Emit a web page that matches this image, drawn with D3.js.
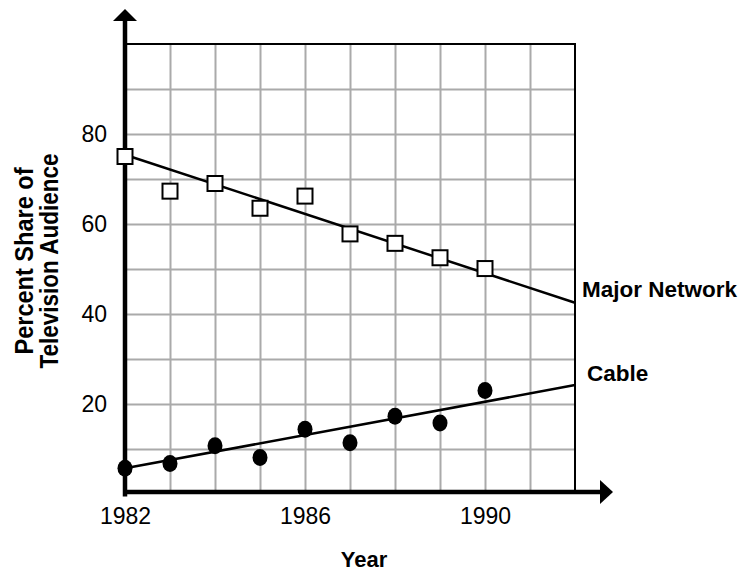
<!DOCTYPE html>
<html lang="en">
<head>
    <meta charset="UTF-8">
    <title>Television Audience Share</title>
    <script src="https://d3js.org/d3.v7.min.js"></script>
    <style>
        body {margin: 0; background: white}
        text {font-family: 'Liberation Sans', Arial, sans-serif; fill: black}
        .grid line {stroke: #aaa; stroke-width: 2}
        .grid .domain {display: none}
        .ticks .domain, .ticks line {display: none}
        .ticks text {font-size: 23px}
        .label {font-size: 22.5px; font-weight: bold}
    </style>
</head>
<body>
<script>
    const width  = 743;
    const height = 571;

    // data
    const years    = [1982, 1983, 1984, 1985, 1986, 1987, 1988, 1989, 1990];
    const network  = [75, 67.3, 69, 63.5, 66.2, 57.8, 55.7, 52.5, 50.1];
    const cable    = [5.7, 6.8, 10.7, 8.1, 14.4, 11.4, 17.3, 15.8, 23];
    const networkTrend = [[1982, 75.4], [1992, 42.5]];
    const cableTrend   = [[1982, 5.7], [1992, 24.2]];
    const xTicks = [1982, 1986, 1990];
    const yTicks = [20, 40, 60, 80];

    const x = d3.scaleLinear().domain([1982, 1992]).range([125, 575]);
    const y = d3.scaleLinear().domain([0, 100]).range([494, 44]);

    const svg = d3.select("body").append("svg")
            .attr("width", width).attr("height", height);

    // grid
    svg.append("g").attr("class", "grid")
        .attr("transform", `translate(0,${y(0)})`)
        .call(d3.axisBottom(x).tickValues(d3.range(1983, 1992)).tickSize(y(0) - y(100)).tickFormat(""))
        .selectAll("line").attr("y2", -(y(0) - y(100)));
    svg.append("g").attr("class", "grid")
        .attr("transform", `translate(${x(1982)},0)`)
        .call(d3.axisLeft(y).tickValues(d3.range(10, 100, 10)).tickSize(-(x(1992) - x(1982))).tickFormat(""));

    // top and right border
    svg.append("path")
        .attr("d", `M${x(1982)},${y(100)}H${x(1992)}V${y(0)}`)
        .attr("fill", "none").attr("stroke", "black").attr("stroke-width", 2);

    // trend lines
    const line = d3.line().x(d => x(d[0])).y(d => y(d[1]));
    [networkTrend, cableTrend].forEach(t => {
        svg.append("path").attr("d", line(t))
            .attr("fill", "none").attr("stroke", "black").attr("stroke-width", 2.5);
    });

    // main axes with arrows
    svg.append("line")
        .attr("x1", x(1982)).attr("y1", y(0) + 2.5)
        .attr("x2", x(1982)).attr("y2", 18)
        .attr("stroke", "black").attr("stroke-width", 4.5);
    svg.append("path")
        .attr("d", `M${x(1982)},9L${x(1982) + 12},21L${x(1982) - 12},21Z`);
    svg.append("line")
        .attr("x1", x(1982) - 2).attr("y1", y(0) - 2)
        .attr("x2", 602).attr("y2", y(0) - 2)
        .attr("stroke", "black").attr("stroke-width", 4.5);
    svg.append("path")
        .attr("d", `M613,${y(0) - 2}L600,${y(0) - 14}L600,${y(0) + 10}Z`);

    // tick labels
    svg.append("g").attr("class", "ticks")
        .attr("transform", `translate(0,${y(0)})`)
        .call(d3.axisBottom(x).tickValues(xTicks).tickFormat(d3.format("d")).tickSize(0).tickPadding(14));
    svg.append("g").attr("class", "ticks")
        .attr("transform", `translate(${x(1982)},0)`)
        .call(d3.axisLeft(y).tickValues(yTicks).tickSize(0).tickPadding(18));

    // markers
    svg.selectAll("rect.net").data(years).join("rect").attr("class", "net")
        .attr("x", d => x(d) - 7.5).attr("y", (d, i) => y(network[i]) - 7.5)
        .attr("width", 15).attr("height", 15)
        .attr("fill", "white").attr("stroke", "black").attr("stroke-width", 2);
    svg.selectAll("ellipse.cab").data(years).join("ellipse").attr("class", "cab")
        .attr("cx", d => x(d)).attr("cy", (d, i) => y(cable[i]))
        .attr("rx", 7.5).attr("ry", 8.5).attr("fill", "black");

    // series labels
    svg.append("text").attr("class", "label")
        .attr("x", 582).attr("y", 297).text("Major Network");
    svg.append("text").attr("class", "label")
        .attr("x", 587).attr("y", 381).text("Cable");

    // axis titles
    svg.append("text").attr("class", "label")
        .attr("x", 364).attr("y", 567).attr("text-anchor", "middle")
        .style("font-size", "22px").text("Year");
    // condensed, tall lettering like the original
    const yt = svg.append("g").attr("transform", "translate(0,261) rotate(-90)");
    yt.append("text").attr("class", "label")
        .attr("x", 0).attr("y", 33).attr("text-anchor", "middle")
        .style("font-size", "26px")
        .attr("textLength", 187).attr("lengthAdjust", "spacingAndGlyphs")
        .text("Percent Share of");
    yt.append("text").attr("class", "label")
        .attr("x", 0).attr("y", 58).attr("text-anchor", "middle")
        .style("font-size", "26px")
        .attr("textLength", 215).attr("lengthAdjust", "spacingAndGlyphs")
        .text("Television Audience");
</script>
</body>
</html>
